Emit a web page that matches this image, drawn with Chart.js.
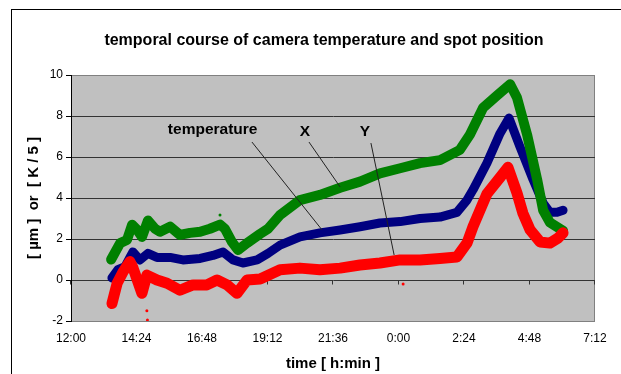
<!DOCTYPE html>
<html>
<head>
<meta charset="utf-8">
<script src="https://cdn.jsdelivr.net/npm/chart.js@4"></script>
<style>
  html, body { margin: 0; padding: 0; background: #fff; }
  #wrap { position: relative; width: 621px; height: 374px; overflow: hidden; }
  #frame { position: absolute; left: 11px; top: 9px; width: 700px; height: 500px; border: 1px solid #000; }
  canvas { position: absolute; left: 0; top: 0; }
</style>
</head>
<body>
<div id="wrap">
  <div id="frame"></div>
  <canvas id="chart" width="621" height="374"></canvas>
</div>
<script>
// --- Data (time in hours from 12:00, past midnight continues above 24) ---
const tickHours = [12, 14.4, 16.8, 19.2, 21.6, 24, 26.4, 28.8, 31.2];
const tickLabels = ['12:00', '14:24', '16:48', '19:12', '21:36', '0:00', '2:24', '4:48', '7:12'];

// temperature (navy)
const tempTime = [13.50, 13.72, 13.98, 14.16, 14.27, 14.53, 14.82, 15.15, 15.63, 16.10, 16.73, 17.20, 17.57, 17.94,
  18.30, 18.82, 19.22, 19.66, 20.39, 21.12, 21.86, 22.59, 23.32, 24.06, 24.79, 25.52, 26.14, 26.51, 26.73, 27.24,
  27.72, 28.05, 28.45, 28.93, 29.30, 29.55, 29.81, 30.03];
const tempValue = [0.1, 0.5, 0.65, 1.1, 1.37, 0.98, 1.3, 1.1, 1.1, 0.98, 1.05, 1.2, 1.37, 0.98,
  0.83, 0.98, 1.3, 1.7, 2.1, 2.3, 2.44, 2.6, 2.78, 2.85, 3.0, 3.07, 3.3, 3.9, 4.4, 5.7,
  7.15, 7.9, 6.5, 4.9, 3.75, 3.3, 3.3, 3.4];

// spot X (green)
const xTime = [13.47, 13.80, 14.05, 14.24, 14.42, 14.60, 14.82, 15.08, 15.26, 15.63, 15.99, 16.36, 16.73, 17.09,
  17.46, 17.64, 17.90, 18.12, 18.45, 18.93, 19.22, 19.66, 20.39, 21.12, 21.86, 22.59, 23.32, 24.06, 24.79, 25.52,
  26.25, 26.62, 27.10, 27.61, 28.09, 28.34, 28.71, 29.08, 29.30, 29.55, 30.03];
const xValue = [1.0, 1.8, 1.95, 2.7, 2.45, 2.1, 2.9, 2.5, 2.35, 2.6, 2.2, 2.3, 2.35, 2.5,
  2.7, 2.5, 1.85, 1.46, 1.8, 2.25, 2.5, 3.17, 3.9, 4.15, 4.5, 4.8, 5.2, 5.45, 5.7, 5.85,
  6.35, 7.1, 8.4, 9.0, 9.55, 8.9, 7.1, 4.9, 3.4, 2.8, 2.4];

// spot Y (red)
const yTime = [13.50, 13.69, 13.91, 14.16, 14.27, 14.60, 14.78, 15.15, 15.52, 15.99, 16.47, 16.98, 17.35, 17.72,
  18.08, 18.45, 18.93, 19.66, 20.39, 21.12, 21.86, 22.59, 23.32, 24.06, 24.79, 25.52, 26.14, 26.51, 26.73, 27.24,
  27.72, 28.01, 28.34, 28.56, 28.82, 29.19, 29.55, 29.85, 30.03];
const yValue = [-1.15, -0.16, 0.4, 0.9, 0.6, -0.65, 0.24, 0.0, -0.16, -0.5, -0.24, -0.24, 0.0, -0.24,
  -0.65, 0.0, 0.05, 0.5, 0.58, 0.5, 0.58, 0.73, 0.83, 0.98, 0.98, 1.05, 1.12, 1.8, 2.6, 4.2,
  5.0, 5.5, 4.25, 3.25, 2.45, 1.85, 1.8, 2.05, 2.3];

// stray points
const yOutTime = [14.78, 14.80, 24.17];
const yOutValue = [-1.5, -1.95, -0.2];
const xOutTime = [17.46];
const xOutValue = [3.17];

// annotation labels with leader lines (data space)
const noteLabels = ['temperature', 'X', 'Y'];
const noteTextAt = [[17.19, 7.32], [20.57, 7.22], [22.77, 7.22]];
const noteLineFrom = [[18.63, 6.73], [20.72, 6.73], [22.99, 6.68]];
const noteLineTo = [[21.20, 2.44], [21.86, 4.54], [23.84, 1.22]];

const chartTitle = 'temporal course of camera temperature and spot position';
const FONT = "Arial, 'Liberation Sans', sans-serif";

function points(t, v) {
  return t.map((h, i) => ({ x: h, y: v[i] }));
}

// --- Plugins ---
const plotFrame = {
  id: 'plotFrame',
  beforeDraw(chart) {
    const { ctx, chartArea: a } = chart;
    ctx.save();
    ctx.fillStyle = '#c0c0c0';
    ctx.fillRect(a.left, a.top, a.right - a.left, a.bottom - a.top);
    ctx.strokeStyle = '#808080';
    ctx.lineWidth = 1;
    ctx.strokeRect(a.left + 0.5, a.top + 0.5, a.right - a.left - 1, a.bottom - a.top);
    // title
    ctx.fillStyle = '#000';
    ctx.font = 'bold 16px ' + FONT;
    ctx.textAlign = 'center';
    ctx.textBaseline = 'middle';
    ctx.fillText(chartTitle, (a.left + a.right) / 2 - 9, a.top - 34);
    ctx.restore();
  },
  beforeDatasetsDraw(chart) {
    // tick marks on the zero line
    const { ctx, scales: { x, y } } = chart;
    const y0 = Math.round(y.getPixelForValue(0)) + 0.5;
    ctx.save();
    ctx.strokeStyle = '#333';
    ctx.lineWidth = 1;
    ctx.beginPath();
    tickHours.forEach((h) => {
      const px = Math.round(x.getPixelForValue(h)) - 0.5;
      ctx.moveTo(px, y0);
      ctx.lineTo(px, y0 + 4);
    });
    ctx.stroke();
    ctx.restore();
  }
};

const notes = {
  id: 'notes',
  afterDatasetsDraw(chart) {
    const { ctx, scales: { x, y } } = chart;
    ctx.save();
    ctx.strokeStyle = '#222';
    ctx.lineWidth = 1;
    noteLineFrom.forEach((p, i) => {
      const q = noteLineTo[i];
      ctx.beginPath();
      ctx.moveTo(x.getPixelForValue(p[0]), y.getPixelForValue(p[1]));
      ctx.lineTo(x.getPixelForValue(q[0]), y.getPixelForValue(q[1]));
      ctx.stroke();
    });
    ctx.fillStyle = '#000';
    ctx.font = 'bold 15.5px ' + FONT;
    ctx.textAlign = 'center';
    ctx.textBaseline = 'middle';
    noteLabels.forEach((txt, i) => {
      const p = noteTextAt[i];
      ctx.fillText(txt, x.getPixelForValue(p[0]), y.getPixelForValue(p[1]));
    });
    ctx.restore();
  }
};

// --- Chart ---
const ctx = document.getElementById('chart').getContext('2d');
new Chart(ctx, {
  type: 'line',
  data: {
    datasets: [
      {
        label: 'temperature',
        data: points(tempTime, tempValue),
        borderColor: '#000080',
        borderWidth: 9,
        pointRadius: 0,
        order: 2
      },
      {
        label: 'X',
        data: points(xTime, xValue),
        borderColor: '#008000',
        borderWidth: 10,
        pointRadius: 0,
        order: 1
      },
      {
        label: 'X stray',
        data: points(xOutTime, xOutValue),
        showLine: false,
        pointRadius: 1.5,
        pointBorderWidth: 0,
        pointBackgroundColor: '#008000',
        order: 1
      },
      {
        label: 'Y',
        data: points(yTime, yValue),
        borderColor: '#ff0000',
        borderWidth: 11,
        pointRadius: 0,
        order: 0
      },
      {
        label: 'Y stray',
        data: points(yOutTime, yOutValue),
        showLine: false,
        pointRadius: 1.5,
        pointBorderWidth: 0,
        pointBackgroundColor: '#ff0000',
        order: 0
      }
    ]
  },
  options: {
    responsive: false,
    animation: false,
    datasets: { line: { borderJoinStyle: 'round', borderCapStyle: 'round', tension: 0 } },
    layout: { padding: { left: 0, right: 26, top: 75, bottom: 0 } },
    plugins: {
      legend: { display: false },
      tooltip: { enabled: false },
      title: { display: false }
    },
    scales: {
      x: {
        type: 'linear',
        min: 12,
        max: 31.2,
        afterBuildTicks: (s) => { s.ticks = tickHours.map((v) => ({ value: v })); },
        afterFit: (s) => { s.height = 53; },
        ticks: {
          callback: (v, i) => tickLabels[i],
          padding: 10,
          color: '#000',
          font: { family: FONT, size: 12 },
          maxRotation: 0,
          autoSkip: false
        },
        grid: { display: false, drawTicks: false },
        border: { display: false },
        title: {
          display: true,
          text: 'time [ h:min ]',
          color: '#000',
          font: { family: FONT, size: 15, weight: 'bold', lineHeight: 1.2 },
          padding: { top: 0, bottom: 1 }
        }
      },
      y: {
        min: -2,
        max: 10,
        afterFit: (s) => { s.width = 71; },
        ticks: { stepSize: 2, padding: 3, color: '#000', font: { family: FONT, size: 12 } },
        grid: {
          color: (c) => (c.tick && (c.tick.value === 10 || c.tick.value === -2)) ? 'rgba(0,0,0,0)' : '#333',
          tickColor: '#000',
          tickLength: 5
        },
        border: { display: true, color: '#000', width: 1 },
        title: {
          display: true,
          text: '[ µm ]  or  [ K / 5 ]',
          color: '#000',
          font: { family: FONT, size: 15, weight: 'bold', lineHeight: 1.2 },
          padding: { top: 25, bottom: 0 }
        }
      }
    }
  },
  plugins: [plotFrame, notes]
});
</script>
</body>
</html>
